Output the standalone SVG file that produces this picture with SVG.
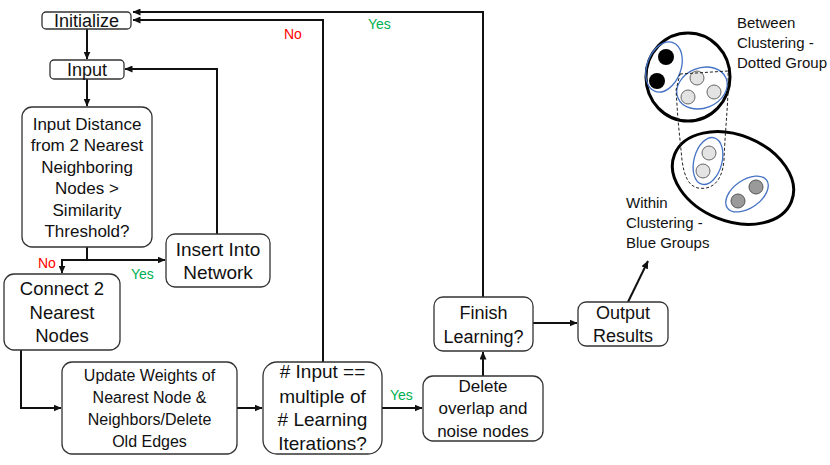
<svg xmlns="http://www.w3.org/2000/svg" width="830" height="465" viewBox="0 0 830 465">
<style>
.box{fill:#fff;stroke:#333;stroke-width:1.3}
.t{font-family:"Liberation Sans",Arial,sans-serif;fill:#111;text-anchor:middle}
.c{fill:none;stroke:#111;stroke-width:2}
.lbl{font-family:"Liberation Sans",Arial,sans-serif;font-size:14px}
.blue{fill:none;stroke:#4472C4;stroke-width:1.3}
.big{fill:none;stroke:#000;stroke-width:3}
.lg{fill:#e3e3e3;stroke:#666;stroke-width:1}
.dg{fill:#9a9a9a;stroke:#555;stroke-width:1}
</style>
<defs>
<marker id="ah" markerWidth="8" markerHeight="7" refX="7.5" refY="3.5" orient="auto" markerUnits="userSpaceOnUse">
<path d="M0,0 L8,3.5 L0,7 z" fill="#111"/>
</marker>
</defs>

<g id="connectors">
<path class="c" d="M87,29 V59" marker-end="url(#ah)"/>
<path class="c" d="M87,79 V106" marker-end="url(#ah)"/>
<path class="c" d="M87,247 V260"/>
<path class="c" d="M61,260 H165" marker-end="url(#ah)"/>
<path class="c" d="M62,260 V273" marker-end="url(#ah)"/>
<path class="c" d="M217,234 V69 H125" marker-end="url(#ah)"/>
<path class="c" d="M21,350 V408 H61" marker-end="url(#ah)"/>
<path class="c" d="M237,408 H262" marker-end="url(#ah)"/>
<path class="c" d="M323,362 V20 H133" marker-end="url(#ah)"/>
<path class="c" d="M382,408 H422" marker-end="url(#ah)"/>
<path class="c" d="M483,376 V352" marker-end="url(#ah)"/>
<path class="c" d="M483,297 V12 H133" marker-end="url(#ah)"/>
<path class="c" d="M533,323 H577" marker-end="url(#ah)"/>
<path class="c" d="M628,302 L648,261" marker-end="url(#ah)"/>
<text class="lbl" x="38" y="268" fill="#FF0000">No</text>
<text class="lbl" x="131" y="279" fill="#00B050">Yes</text>
<text class="lbl" x="284" y="39" fill="#FF0000">No</text>
<text class="lbl" x="368" y="29" fill="#00B050">Yes</text>
<text class="lbl" x="390" y="400" fill="#00B050">Yes</text>
</g>

<g id="initialize">
<rect class="box" x="42" y="12" width="89" height="17" rx="4"/>
<text class="t" x="86.5" y="27" font-size="18">Initialize</text>
</g>

<g id="input">
<rect class="box" x="50" y="60" width="74" height="19" rx="4"/>
<text class="t" x="87" y="76" font-size="18">Input</text>
</g>

<g id="decision">
<rect class="box" x="22" y="107" width="130" height="140" rx="10"/>
<text class="t" x="87" y="130" font-size="17">Input Distance</text>
<text class="t" x="87" y="151" font-size="17">from 2 Nearest</text>
<text class="t" x="87" y="173" font-size="17">Neighboring</text>
<text class="t" x="87" y="194" font-size="17">Nodes &gt;</text>
<text class="t" x="87" y="216" font-size="17">Similarity</text>
<text class="t" x="87" y="237" font-size="17">Threshold?</text>
</g>

<g id="insert">
<rect class="box" x="166" y="234" width="104" height="53" rx="9"/>
<text class="t" x="218" y="256" font-size="19">Insert Into</text>
<text class="t" x="218" y="279" font-size="19">Network</text>
</g>

<g id="connect">
<rect class="box" x="4" y="274" width="116" height="76" rx="10"/>
<text class="t" x="62" y="295" font-size="18.5">Connect 2</text>
<text class="t" x="62" y="319" font-size="18.5">Nearest</text>
<text class="t" x="62" y="342" font-size="18.5">Nodes</text>
</g>

<g id="update">
<rect class="box" x="62" y="362" width="175" height="92" rx="10"/>
<text class="t" x="149.5" y="381" font-size="16">Update Weights of</text>
<text class="t" x="149.5" y="403" font-size="16">Nearest Node &amp;</text>
<text class="t" x="149.5" y="425" font-size="16">Neighbors/Delete</text>
<text class="t" x="149.5" y="447" font-size="16">Old Edges</text>
</g>

<g id="multiple">
<rect class="box" x="263" y="362" width="119" height="92" rx="14"/>
<text class="t" x="322.5" y="378" font-size="19">#  Input ==</text>
<text class="t" x="322.5" y="403" font-size="19">multiple of</text>
<text class="t" x="322.5" y="426" font-size="19">#  Learning</text>
<text class="t" x="322.5" y="450" font-size="19">Iterations?</text>
</g>

<g id="delete">
<rect class="box" x="423" y="376" width="120" height="65" rx="10"/>
<text class="t" x="483" y="392" font-size="17">Delete</text>
<text class="t" x="483" y="414" font-size="17">overlap and</text>
<text class="t" x="483" y="437" font-size="17">noise nodes</text>
</g>

<g id="finish">
<rect class="box" x="434" y="297" width="99" height="54" rx="9"/>
<text class="t" x="483.5" y="319" font-size="18">Finish</text>
<text class="t" x="483.5" y="343" font-size="18">Learning?</text>
</g>

<g id="output">
<rect class="box" x="578" y="302" width="90" height="44" rx="8"/>
<text class="t" x="623" y="319" font-size="18">Output</text>
<text class="t" x="623" y="342" font-size="18">Results</text>
</g>

<g id="clusters">
<ellipse class="big" cx="688" cy="77" rx="42" ry="44"/>
<ellipse class="big" cx="733" cy="178" rx="63" ry="43" transform="rotate(22 733 178)"/>
<ellipse class="blue" cx="664" cy="67" rx="17" ry="26" transform="rotate(20 664 67)"/>
<circle cx="666" cy="57" r="8" fill="#000"/>
<circle cx="657" cy="81" r="8" fill="#000"/>
<ellipse class="blue" cx="702" cy="88" rx="26" ry="20" transform="rotate(-22 702 88)"/>
<circle class="lg" cx="697" cy="78" r="7"/>
<circle class="lg" cx="688" cy="97" r="7"/>
<circle class="lg" cx="714" cy="92" r="7"/>
<ellipse class="blue" cx="708" cy="161" rx="14" ry="24" transform="rotate(15 708 161)"/>
<circle class="lg" cx="709" cy="153" r="7"/>
<circle class="lg" cx="703" cy="171" r="7"/>
<ellipse class="blue" cx="747" cy="194" rx="24" ry="14" transform="rotate(-35 747 194)"/>
<circle class="dg" cx="756" cy="187" r="7"/>
<circle class="dg" cx="738" cy="201" r="7"/>
<path d="M680,74 L728,71 C729,100 725,130 724,160 C722,184 710,190 698,188 C688,186 684,175 682,160 L678,120 L676,90 Z" fill="none" stroke="#222" stroke-width="1" stroke-dasharray="3,2"/>
<text class="t" x="737" y="28" font-size="15" text-anchor="start" style="text-anchor:start">Between</text>
<text class="t" x="737" y="48" font-size="15" style="text-anchor:start">Clustering -</text>
<text class="t" x="737" y="68" font-size="15" style="text-anchor:start">Dotted Group</text>
<text class="t" x="626" y="208" font-size="15" style="text-anchor:start">Within</text>
<text class="t" x="626" y="228" font-size="15" style="text-anchor:start">Clustering -</text>
<text class="t" x="626" y="248" font-size="15" style="text-anchor:start">Blue Groups</text>
</g>
</svg>
